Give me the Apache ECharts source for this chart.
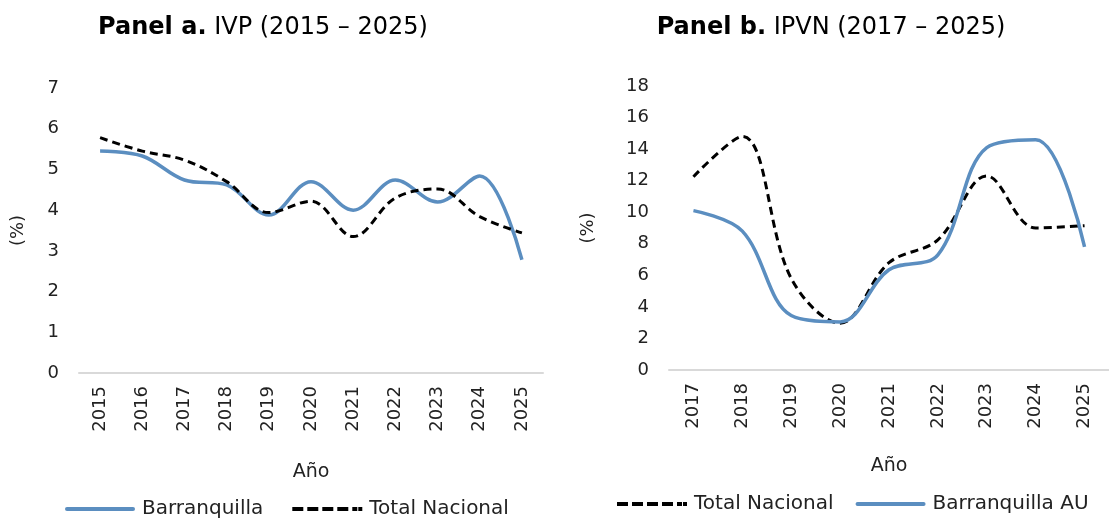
<!DOCTYPE html>
<html><head><meta charset="utf-8">
<script src="https://cdn.jsdelivr.net/npm/echarts@6/dist/echarts.min.js"></script>
<style>html,body{margin:0;padding:0;background:#fff}#c{width:1109px;height:519px}</style>
</head><body><div id="c"></div>
<script>
const yearsA = ['2015','2016','2017','2018','2019','2020','2021','2022','2023','2024','2025'];
const barranquillaA = [5.45, 5.33, 4.74, 4.62, 3.88, 4.70, 4.00, 4.74, 4.20, 4.84, 2.78];
const nacionalA = [5.78, 5.45, 5.23, 4.70, 3.94, 4.22, 3.35, 4.30, 4.52, 3.84, 3.44];
const yearsB = ['2017','2018','2019','2020','2021','2022','2023','2024','2025'];
const nacionalB = [12.25, 14.8, 5.8, 2.97, 6.8, 8.25, 12.3, 9.0, 9.15];
const barranquillaB = [10.1, 8.8, 3.45, 3.05, 6.35, 7.3, 14.1, 14.6, 7.8];

const FONT = 'DejaVu Sans';
const BLUE = '#5B8EC0';
const SMOOTH = 0.36;
const DASH_ICON = 'path://M0,0h11v4h-11z M15,0h11v4h-11z M30,0h11v4h-11z M45,0h11v4h-11z M60,0h5v4h-5z M66,0h4v4h-4z';
const SOLID_ICON = 'path://M2,0h66a2,2 0 0 1 0,4h-66a2,2 0 0 1 0,-4z';
const chart = echarts.init(document.getElementById('c'));
const axisLabel = {color:'#222', fontFamily:FONT, fontSize:18};
function xAxis(idx, data, gap){
  return {type:'category', gridIndex:idx, data:data, boundaryGap:true,
    axisLine:{lineStyle:{color:'#d9d9d9', width:2}}, axisTick:{show:false},
    axisLabel:Object.assign({rotate:90, margin:13}, axisLabel),
    name:'Año', nameLocation:'middle', nameGap:gap,
    nameTextStyle:{color:'#222', fontFamily:FONT, fontSize:19}};
}
function yAxis(idx, max, interval, gap){
  return {type:'value', gridIndex:idx, min:0, max:max, interval:interval,
    axisLine:{show:false}, axisTick:{show:false}, splitLine:{show:false},
    axisLabel:Object.assign({margin:20}, axisLabel),
    name:'(%)', nameLocation:'middle', nameRotate:90, nameGap:gap,
    nameTextStyle:{color:'#222', fontFamily:FONT, fontSize:18}};
}
const blueLine = {color:BLUE, width:3.5};
const dashLine = {color:'#000', width:3, type:[8,5]};
const legendText = {fontFamily:FONT, fontSize:20, color:'#222', padding:[0,0,0,2]};
chart.setOption({
  animation:false,
  title:[
    {text:'{b|Panel a.} IVP (2015 – 2025)', left:258, top:11, textAlign:'center',
     textStyle:{fontFamily:FONT, fontSize:24, fontWeight:'normal', color:'#000',
       rich:{b:{fontFamily:FONT, fontSize:24, fontWeight:'bold', color:'#000'}}}},
    {text:'{b|Panel b.} IPVN (2017 – 2025)', left:826, top:11, textAlign:'center',
     textStyle:{fontFamily:FONT, fontSize:24, fontWeight:'normal', color:'#000',
       rich:{b:{fontFamily:FONT, fontSize:24, fontWeight:'bold', color:'#000'}}}}
  ],
  legend:[
    {left:60, top:494, itemWidth:70, itemHeight:4, itemGap:29,
     data:[{name:'Barranquilla', icon:SOLID_ICON, itemStyle:{color:BLUE}},
           {name:'Total Nacional', icon:DASH_ICON, itemStyle:{color:'#000'}}],
     textStyle:legendText},
    {left:612, top:489, itemWidth:70, itemHeight:4, itemGap:22,
     data:[{name:'Total Nacional', icon:DASH_ICON, itemStyle:{color:'#000'}},
           {name:'Barranquilla AU', icon:SOLID_ICON, itemStyle:{color:BLUE}}],
     textStyle:legendText}
  ],
  grid:[
    {left:79, right:566, top:88, bottom:146},
    {left:669, right:0, top:86, bottom:149}
  ],
  xAxis:[xAxis(0, yearsA, 90), xAxis(1, yearsB, 87)],
  yAxis:[yAxis(0, 7, 1, 52), yAxis(1, 18, 2, 72)],
  series:[
    {name:'Barranquilla', type:'line', xAxisIndex:0, yAxisIndex:0, data:barranquillaA,
     smooth:SMOOTH, symbol:'none', lineStyle:blueLine, itemStyle:{color:BLUE}},
    {name:'Total Nacional', type:'line', xAxisIndex:0, yAxisIndex:0, data:nacionalA,
     smooth:SMOOTH, symbol:'none', lineStyle:dashLine, itemStyle:{color:'#000'}},
    {name:'Total Nacional', type:'line', xAxisIndex:1, yAxisIndex:1, data:nacionalB,
     smooth:SMOOTH, symbol:'none', lineStyle:dashLine, itemStyle:{color:'#000'}},
    {name:'Barranquilla AU', type:'line', xAxisIndex:1, yAxisIndex:1, data:barranquillaB,
     smooth:SMOOTH, symbol:'none', lineStyle:blueLine, itemStyle:{color:BLUE}}
  ]
});
</script></body></html>
